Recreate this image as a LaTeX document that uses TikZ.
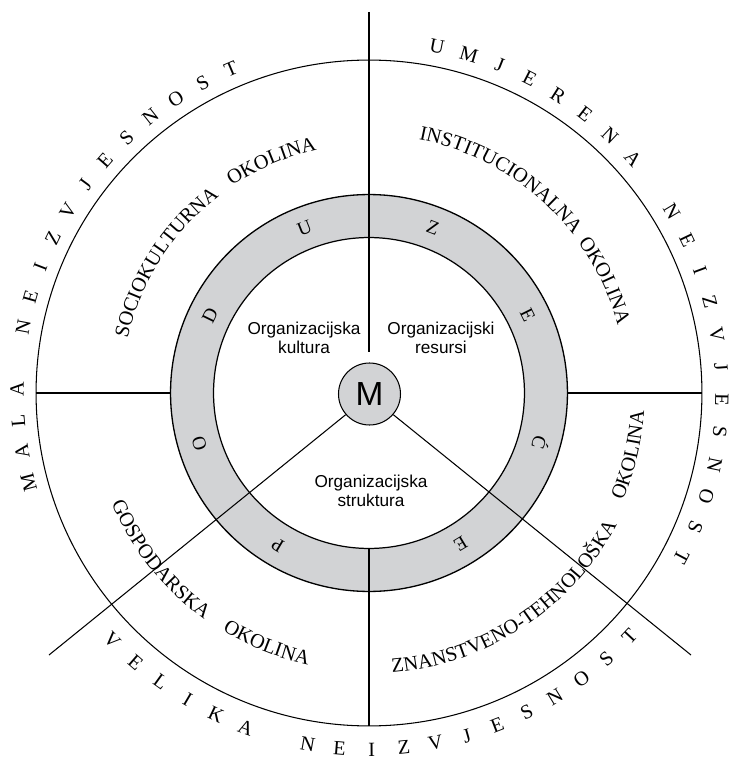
\documentclass[tikz,border=0pt]{standalone}
\usepackage{fontspec}
\setmainfont{Liberation Serif}
\newfontfamily\sansf{Liberation Sans}
\usetikzlibrary{decorations.text}
\definecolor{ringgray}{RGB}{210,211,213}
\tikzset{
  thinline/.style={line width=0.6pt},
  outerletter/.style={font=\fontsize{11.5}{13}\selectfont, inner sep=0pt, anchor=base},
  ringletter/.style={font=\fontsize{11}{13}\selectfont, inner sep=0pt, anchor=base},
  orglabel/.style={font=\sansf\fontsize{9.8}{11}\selectfont, align=center, inner sep=0pt},
  envtext/.style={decorate, decoration={text along path, text align=center, text={|\fontsize{11.6}{14}\selectfont|#1}}},
  bigcircle/.style={circle, draw, line width=0.6pt, inner sep=0pt},
}
\begin{document}
\begin{tikzpicture}[x=0.02cm, y=0.02cm]
\useasboundingbox (-369,-365) rectangle (361,393);
% circles
\node[bigcircle, minimum size=13.32cm] (outer) at (0,0) {};
\node[bigcircle, fill=ringgray, minimum size=7.94cm, line width=0.75pt] (ringO) at (0,0) {};
\node[bigcircle, fill=white, minimum size=6.22cm, line width=0.7pt] (ringI) at (0,0) {};
\node[bigcircle, fill=ringgray, minimum size=1.24cm, font=\sansf\fontsize{19}{19}\selectfont] (M) at (0.5,-1) {M};
% connectors
\coordinate (topA) at (0,381);
\coordinate (topB) at (0,41);
\coordinate (LL) at (-320,-262);
\coordinate (LR) at (322,-262);
\draw[thinline] (topA) -- (topB);
\draw[thinline] (ringI.south) -- (outer.south);
\draw[thinline] (outer.west) -- (ringO.west);
\draw[thinline] (ringO.east) -- (outer.east);
\draw[thinline] (M.221) -- (LL);
\draw[thinline] (M.-41) -- (LR);
% inner labels
\node[orglabel] (kult) at (-65,55) {Organizacijska\\kultura};
\node[orglabel] (res) at (72,55) {Organizacijski\\resursi};
\node[orglabel] (struk) at (2,-98) {Organizacijska\\struktura};
% ring letters
\foreach \ch [count=\i from 0] in {P,O,D,U,Z,E,Ć,E} {
  \pgfmathsetmacro\ang{239-42.54*\i}
  \node[ringletter, rotate=\ang-90] (ring\i) at (\ang:170.6) {\ch};
}
% outer letters
\foreach \ch [count=\i from 0] in {M,A,L,A,{},N,E,I,Z,V,J,E,S,N,O,S,T} {
  \pgfmathsetmacro\ang{194.7-5.1*\i}
  \node[outerletter, rotate=\ang-90] (mala\i) at (\ang:345.3) {\ch};
}
\foreach \ch [count=\i from 0] in {U,M,J,E,R,E,N,A,{},N,E,I,Z,V,J,E,S,N,O,S,T} {
  \pgfmathsetmacro\ang{78.9-5.33*\i}
  \node[outerletter, rotate=\ang-90] (umj\i) at (\ang:346.3) {\ch};
}
\foreach \ch [count=\i from 0] in {V,E,L,I,K,A,{},N,E,I,Z,V,J,E,S,N,O,S,T} {
  \pgfmathsetmacro\ang{223.9+5.17*\i}
  \node[outerletter, rotate=\ang+90] (vel\i) at (\ang:363) {\ch};
}
% environment labels
\path[envtext=SOCIOKULTURNA] (207.3:247.3) arc[start angle=207.3, end angle=87.3, radius=247.3];
\path[envtext=OKOLINA] (152.8:248.3) arc[start angle=152.8, end angle=72.8, radius=248.3];
\path[envtext=INSTITUCIONALNA] (118.3:258.3) arc[start angle=118.3, end angle=-1.7, radius=258.3];
\path[envtext=OKOLINA] (65.5:257.8) arc[start angle=65.5, end angle=-14.5, radius=257.8];
\path[envtext=ZNANSTVENO-TEHNOLOŠKA] (-116.6:280.7) arc[start angle=-116.6, end angle=3.4, radius=280.7];
\path[envtext=OKOLINA] (-53.4:275.7) arc[start angle=-53.4, end angle=26.6, radius=275.7];
\path[envtext=GOSPODARSKA] (158.6:280.2) arc[start angle=158.6, end angle=278.6, radius=280.2];
\path[envtext=OKOLINA] (207.8:278.7) arc[start angle=207.8, end angle=287.8, radius=278.7];
\end{tikzpicture}
\end{document}
